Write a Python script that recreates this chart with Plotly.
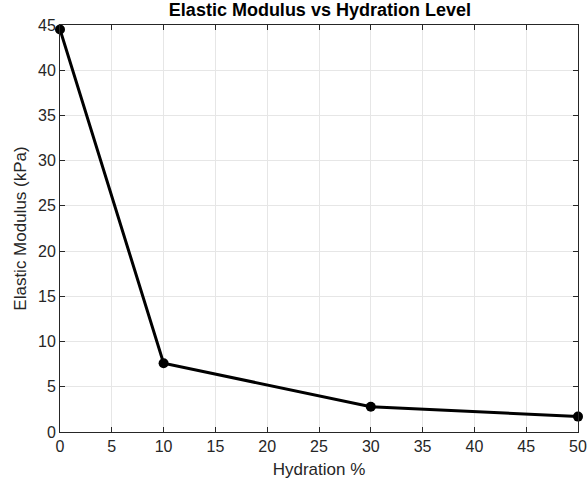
import plotly.graph_objects as go

hydration = [0, 10, 30, 50]
modulus = [44.5, 7.6, 2.8, 1.7]
x_ticks = [0, 5, 10, 15, 20, 25, 30, 35, 40, 45, 50]
y_ticks = [0, 5, 10, 15, 20, 25, 30, 35, 40, 45]

fig = go.Figure()
fig.add_trace(go.Scatter(
    x=hydration, y=modulus, mode="lines+markers",
    line=dict(color="black", width=3),
    marker=dict(color="black", size=10),
    showlegend=False, cliponaxis=False,
))

FONT = "Liberation Sans, Arial"
axis_common = dict(
    showline=True, linecolor="#262626", linewidth=1, mirror="ticks",
    ticks="inside", ticklen=5, tickcolor="#262626",
    showgrid=True, gridcolor="#e6e6e6", gridwidth=1,
    zeroline=False, automargin=False,
    tickfont=dict(family=FONT, size=16, color="#262626"),
    title_font=dict(family=FONT, size=17, color="#262626"),
)

fig.update_layout(
    width=587, height=484,
    paper_bgcolor="white", plot_bgcolor="white",
    margin=dict(l=60, r=9, t=25, b=52),
    title=dict(text="<b>Elastic Modulus vs Hydration Level</b>", x=0.545, xanchor="center",
               y=0.993, yanchor="top",
               font=dict(family=FONT, size=18, color="black")),
    xaxis=dict(range=[0, 50], tickvals=x_ticks, title=dict(text="Hydration %", standoff=8), **axis_common),
    yaxis=dict(range=[0, 45], tickvals=y_ticks, title=dict(text="Elastic Modulus (kPa)", standoff=7), **axis_common),
)

fig.write_html("out.html", config={"displayModeBar": False},
               post_script="document.body.style.margin='0';document.body.style.overflow='hidden';")
